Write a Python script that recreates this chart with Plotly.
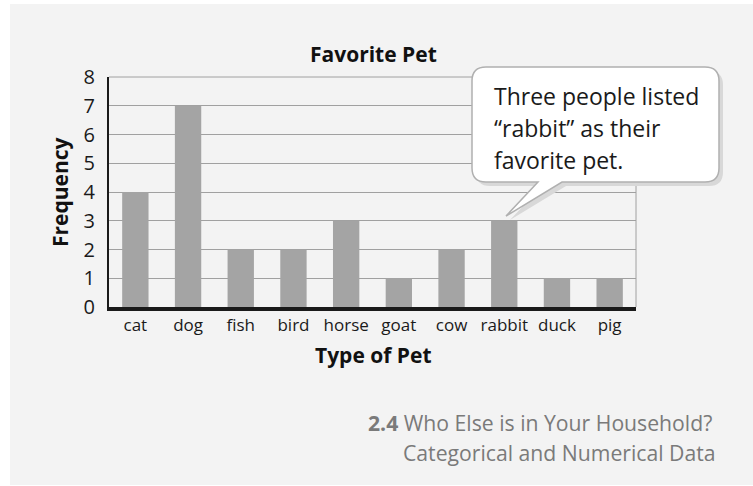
import plotly.graph_objects as go

categories = ["cat", "dog", "fish", "bird", "horse", "goat", "cow", "rabbit", "duck", "pig"]
frequency = [4, 7, 2, 2, 3, 1, 2, 3, 1, 1]
y_ticks = [0, 1, 2, 3, 4, 5, 6, 7, 8]
title_text = "Favorite Pet"
x_title = "Type of Pet"
y_title = "Frequency"
callout_lines = ["Three people listed", "“rabbit” as their", "favorite pet."]
footer_lines = ["<b>2.4</b> Who Else is in Your Household?", "Categorical and Numerical Data"]

W, H = 753, 486
PX0, PX1 = 109, 636   # plot area in pixels
PY0, PY1 = 77, 307

def px(x):
    return x / W

def py(y):
    return 1 - y / H

FONT = "Open Sans"

fig = go.Figure()
fig.add_trace(go.Bar(
    x=categories, y=frequency,
    marker=dict(color="#a4a4a4", line=dict(width=0)),
    hoverinfo="x+y",
))

shapes = []
shapes.append(dict(type="rect", xref="paper", yref="paper", layer="below",
                   x0=px(10), x1=px(753), y0=py(485), y1=py(4),
                   fillcolor="#f3f3f3", line=dict(width=0)))
shapes.append(dict(type="line", xref="paper", yref="paper",
                   x0=px(PX1), x1=px(PX1), y0=py(PY1), y1=py(PY0),
                   line=dict(color="#a0a0a0", width=1)))
shapes.append(dict(type="line", xref="paper", yref="paper",
                   x0=px(PX0), x1=px(PX1), y0=py(PY0), y1=py(PY0),
                   line=dict(color="#a0a0a0", width=1)))

bx0, bx1, by0, by1, r = 472, 719, 67, 182, 14
tail_a, tail_b = 538, 562

def bubble_path(dx=0, dy=0):
    def P(x, y):
        return f"{px(x+dx):.5f},{py(y+dy):.5f}"
    tipx, tipy = 506, 216
    s = f"M {P(bx0+r, by0)} L {P(bx1-r, by0)} Q {P(bx1, by0)} {P(bx1, by0+r)} "
    s += f"L {P(bx1, by1-r)} Q {P(bx1, by1)} {P(bx1-r, by1)} "
    s += f"L {P(tail_b, by1)} L {P(tipx, tipy)} L {P(tail_a, by1)} "
    s += f"L {P(bx0+r, by1)} Q {P(bx0, by1)} {P(bx0, by1-r)} "
    s += f"L {P(bx0, by0+r)} Q {P(bx0, by0)} {P(bx0+r, by0)} Z"
    return s

shapes.append(dict(type="path", xref="paper", yref="paper", path=bubble_path(4, 4),
                   fillcolor="#d8d8d8", line=dict(width=0)))
shapes.append(dict(type="path", xref="paper", yref="paper", path=bubble_path(),
                   fillcolor="#ffffff", line=dict(color="#b0b0b0", width=1.5)))

annotations = []
def ann(text, x, y, size, color="#111111", xanchor="center", angle=0):
    annotations.append(dict(text=text, xref="paper", yref="paper",
                            x=px(x), y=py(y), xanchor=xanchor, yanchor="middle",
                            showarrow=False, textangle=angle,
                            font=dict(family=FONT, size=size, color=color)))

ann(f"<b>{title_text}</b>", 373, 54, 21)
ann(f"<b>{x_title}</b>", 373, 355, 21)
ann(f"<b>{y_title}</b>", 60, 192, 21, angle=-90)
for i, line in enumerate(callout_lines):
    ann(line, 492, 96 + 32 * i, 23, color="#1a1a1a", xanchor="left")
for line, yy, xx in zip(footer_lines, [422, 452], [714, 718]):
    ann(line, xx, yy, 21.2, color="#7a7a7a", xanchor="right")

fig.update_layout(
    width=W, height=H,
    margin=dict(l=0, r=0, t=0, b=0, pad=0, autoexpand=False),
    paper_bgcolor="#ffffff",
    plot_bgcolor="rgba(0,0,0,0)",
    showlegend=False,
    bargap=0.5,
    shapes=shapes,
    annotations=annotations,
    xaxis=dict(
        domain=[px(PX0), px(PX1)], automargin=False,
        showgrid=False, showline=True, linecolor="#1a1a1a", linewidth=4,
        ticks="", tickfont=dict(family=FONT, size=17, color="#1a1a1a"),
        fixedrange=True,
    ),
    yaxis=dict(
        domain=[py(PY1), py(PY0)], automargin=False,
        range=[0, 8], tickvals=y_ticks,
        showgrid=True, gridcolor="#a0a0a0", gridwidth=1, zeroline=False,
        showline=True, linecolor="#1a1a1a", linewidth=2,
        ticks="", ticklabelstandoff=8,
        tickfont=dict(family=FONT, size=20, color="#1a1a1a"),
        fixedrange=True,
    ),
)

fig.write_html("out.html", config={"displayModeBar": False})
